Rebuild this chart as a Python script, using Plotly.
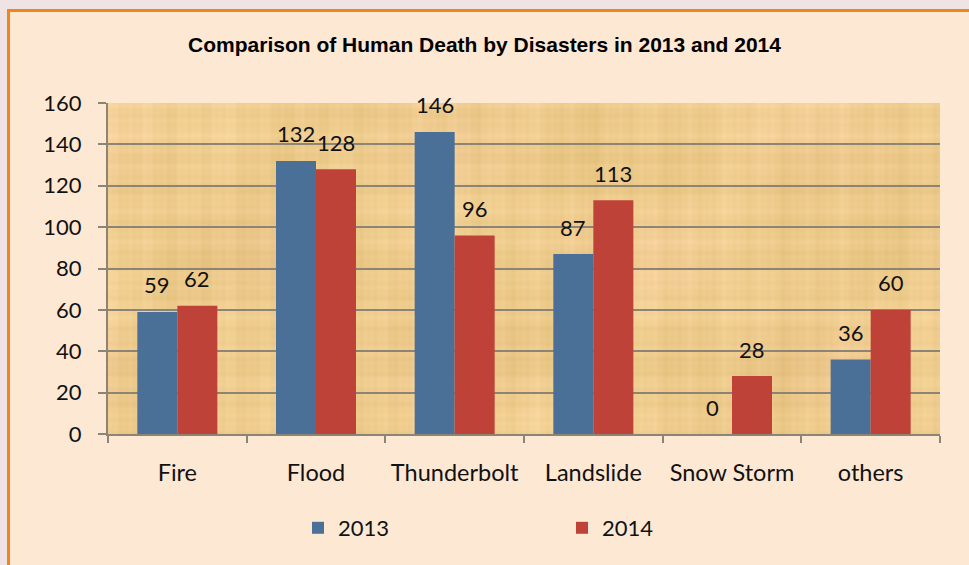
import base64
import struct
import zlib

import numpy as np
import plotly.graph_objects as go

# Human deaths by disaster type
categories = ["Fire", "Flood", "Thunderbolt", "Landslide", "Snow Storm", "others"]
deaths_2013 = [59, 132, 146, 87, 0, 36]
deaths_2014 = [62, 128, 96, 113, 28, 60]
series_names = ["2013", "2014"]
y_ticks = [0, 20, 40, 60, 80, 100, 120, 140, 160]

W, H = 969, 565
ML, MR, MT, MB = 108, 29, 103, 131
PW, PH = W - ML - MR, H - MT - MB

BLUE = "#4A7097"
RED = "#BF4239"
GRID = "#8C8474"
CREAM = "#FDE8D4"
PAGE = "#EFE3E3"
ORANGE = "#F0861A"
PARCH = "#EDCB8E"
LABEL_FONT = "Lato"

BARGAP = 0.423


def px_x(p):
    return (p - ML) / PW


def px_y(p):
    return (H - MB - p) / PH


def papyrus_png(w, h):
    """Soft woven-fibre parchment texture as a PNG data URI."""
    xs = np.arange(w)[None, :].astype(float)
    ys = np.arange(h)[:, None].astype(float)
    # vertical and horizontal fibres
    v = (np.sin(xs * 0.37) * 0.5 + np.sin(xs * 0.163 + 1.3) * 0.7 + np.sin(xs * 0.91 + 0.4) * 0.4
         + np.sin(xs * 0.061 + 0.9) * 0.5)
    hz = (np.sin(ys * 0.41 + 0.7) * 0.5 + np.sin(ys * 0.177 + 2.1) * 0.7 + np.sin(ys * 0.83) * 0.4
          + np.sin(ys * 0.067 + 0.2) * 0.5)
    # broad blotches
    blot = (np.sin(xs * 0.021 + ys * 0.013) + np.sin(xs * 0.009 - ys * 0.031 + 1.7)
            + np.sin(xs * 0.047 + ys * 0.038 + 0.5) * 0.6)
    shade = v * 2.6 + hz * 2.6 + blot * 1.8
    base = np.array([238, 204, 141], dtype=float)
    tint = np.array([1.0, 1.1, 1.7])
    img = base[None, None, :] + shade[:, :, None] * tint[None, None, :]
    # faint pink patches
    pink = np.clip(np.sin(xs * 0.017 + 2.0) * np.sin(ys * 0.029 + 0.3), 0, None)
    img = img + pink[:, :, None] * np.array([1.0, -2.0, 3.0])[None, None, :]
    img = np.clip(img, 0, 255).astype(np.uint8)
    raw = b"".join(b"\x00" + img[r].tobytes() for r in range(h))

    def chunk(tag, data):
        c = struct.pack(">I", len(data)) + tag + data
        return c + struct.pack(">I", zlib.crc32(tag + data) & 0xFFFFFFFF)

    png = (b"\x89PNG\r\n\x1a\n"
           + chunk(b"IHDR", struct.pack(">IIBBBBB", w, h, 8, 2, 0, 0, 0))
           + chunk(b"IDAT", zlib.compress(raw, 9))
           + chunk(b"IEND", b""))
    return "data:image/png;base64," + base64.b64encode(png).decode()


fig = go.Figure()
fig.add_trace(go.Bar(name=series_names[0], x=categories, y=deaths_2013,
                     marker=dict(color=BLUE, line=dict(width=0))))
fig.add_trace(go.Bar(name=series_names[1], x=categories, y=deaths_2014,
                     marker=dict(color=RED, line=dict(width=0))))

# value labels above each bar
half = (1 - BARGAP) / 4
annotations = []
for i, (a, b) in enumerate(zip(deaths_2013, deaths_2014)):
    for off, v in ((-half, a), (half, b)):
        annotations.append(dict(x=i + off, y=v, xref="x", yref="y", text=str(v),
                                showarrow=False, yanchor="middle", yshift=27,
                                font=dict(family=LABEL_FONT, size=22, color="#111111")))

# page strip and orange frame around the chart
shapes = [
    dict(type="rect", xref="paper", yref="paper", x0=px_x(-5), x1=px_x(W + 5),
         y0=px_y(-5), y1=px_y(9), fillcolor=PAGE, line=dict(width=0), layer="below"),
    dict(type="rect", xref="paper", yref="paper", x0=px_x(-5), x1=px_x(7),
         y0=px_y(-5), y1=px_y(H + 5), fillcolor=PAGE, line=dict(width=0), layer="below"),
    dict(type="rect", xref="paper", yref="paper", x0=px_x(8.5), x1=px_x(W + 20),
         y0=px_y(10.5), y1=px_y(H + 20), fillcolor="rgba(0,0,0,0)",
         line=dict(color=ORANGE, width=3), layer="below"),
]

fig.update_layout(
    width=W, height=H,
    margin=dict(l=ML, r=MR, t=MT, b=MB, pad=0),
    paper_bgcolor=CREAM, plot_bgcolor=PARCH,
    barmode="group", bargap=BARGAP, bargroupgap=0,
    title=dict(text="<b>Comparison of Human Death by Disasters in 2013 and 2014</b>",
               x=0.5, xref="container", xanchor="center",
               y=1 - 45 / H, yref="container", yanchor="middle",
               font=dict(family="Liberation Sans", size=21, color="#000000")),
    font=dict(family=LABEL_FONT, size=22, color="#111111"),
    xaxis=dict(type="category", tickson="boundaries", ticks="outside", ticklen=7,
               tickcolor=GRID, tickwidth=1.5, showline=True, linecolor=GRID, linewidth=2,
               showgrid=False, ticklabelstandoff=17,
               tickfont=dict(family=LABEL_FONT, size=23.5, color="#111111")),
    yaxis=dict(range=[0, 160], tickvals=y_ticks, ticks="outside", ticklen=8,
               tickcolor=GRID, tickwidth=1.5, showline=True, linecolor=GRID, linewidth=2,
               showgrid=True, gridcolor=GRID, gridwidth=1.5, zeroline=False,
               ticklabelstandoff=12,
               tickfont=dict(family=LABEL_FONT, size=22, color="#111111")),
    legend=dict(orientation="h", x=px_x(298), xanchor="left", y=px_y(528), yanchor="middle",
                entrywidth=219, entrywidthmode="pixels", bgcolor="rgba(0,0,0,0)",
                font=dict(family=LABEL_FONT, size=22, color="#111111"), traceorder="normal"),
    annotations=annotations,
    shapes=shapes,
    images=[dict(source=papyrus_png(PW, PH), xref="paper", yref="paper", x=0, y=1,
                 sizex=1, sizey=1, xanchor="left", yanchor="top", sizing="stretch",
                 layer="below")],
    showlegend=True,
)

fig.write_html("out.html")
